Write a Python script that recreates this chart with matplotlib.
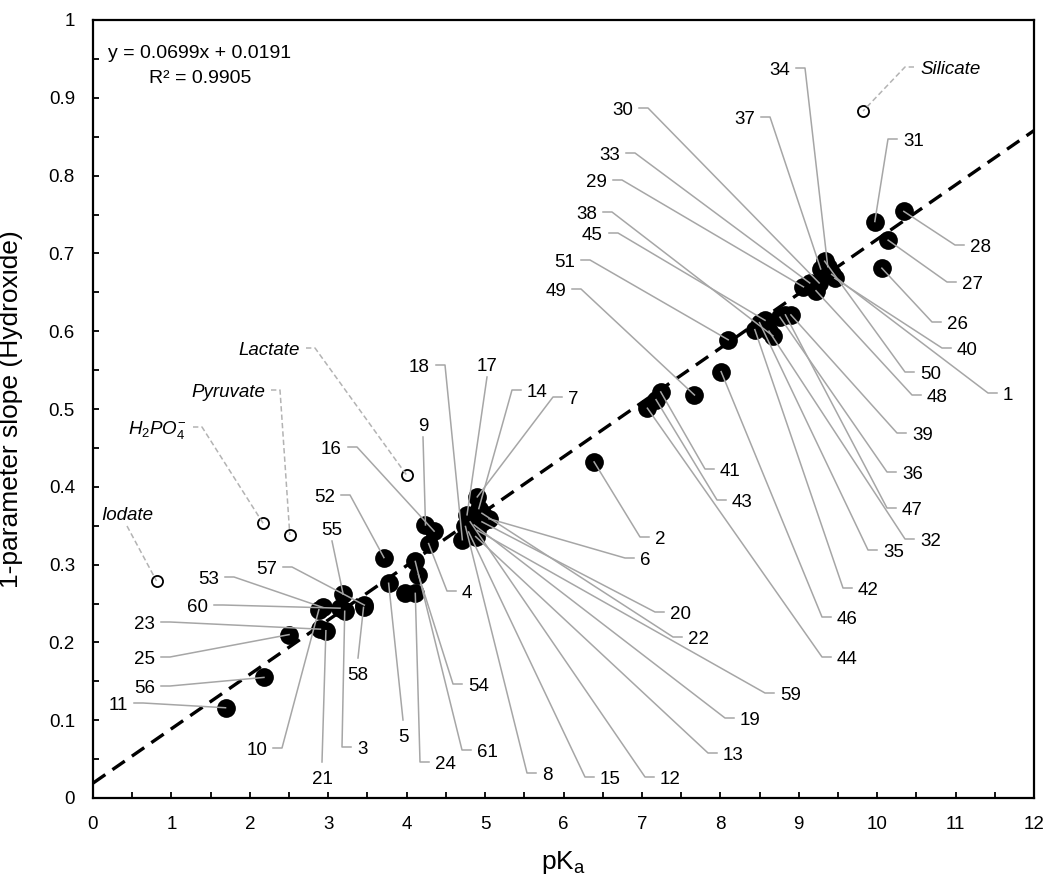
import matplotlib
matplotlib.use('Agg')
import matplotlib.pyplot as plt
from matplotlib.ticker import MultipleLocator, FuncFormatter
import numpy as np

plt.rcParams['font.family'] = ['Liberation Sans', 'DejaVu Sans']
plt.rcParams['mathtext.fontset'] = 'custom'
plt.rcParams['mathtext.rm'] = 'Liberation Sans'
plt.rcParams['mathtext.it'] = 'Liberation Sans:italic'

# ---------------- data ----------------
compound_ids = [11, 56, 25, 23, 21, 10, 53, 60, 3, 55, 57, 58, 52, 5, 24, 61, 54, 4, 9, 16,
                18, 17, 14, 7, 6, 20, 22, 59, 19, 13, 12, 15, 8,
                2, 44, 43, 41, 49, 46, 51,
                42, 35, 45, 32, 38, 36, 47, 39,
                29, 33, 48, 30, 37, 50, 34, 1, 40,
                31, 26, 27, 28]
pka_values = [1.69, 2.18, 2.50, 2.90, 2.97, 2.88, 2.93, 3.15, 3.21, 3.19, 3.46, 3.45, 3.71, 3.77, 4.11, 4.11, 4.15, 4.28, 4.24, 4.35,
              4.71, 4.77, 4.92, 4.90, 5.05, 4.96, 4.96, 4.90, 4.86, 4.88, 4.81, 4.79, 4.75,
              6.39, 7.07, 7.18, 7.24, 7.67, 8.01, 8.10,
              8.44, 8.50, 8.57, 8.62, 8.67, 8.76, 8.83, 8.90,
              9.06, 9.14, 9.22, 9.26, 9.28, 9.33, 9.37, 9.42, 9.46,
              9.97, 10.06, 10.14, 10.34]
slope_values = [0.116, 0.155, 0.210, 0.217, 0.215, 0.242, 0.245, 0.244, 0.240, 0.262, 0.248, 0.245, 0.309, 0.276, 0.263, 0.304, 0.287, 0.327, 0.351, 0.343,
                0.332, 0.364, 0.372, 0.387, 0.359, 0.355, 0.366, 0.344, 0.351, 0.336, 0.355, 0.342, 0.349,
                0.432, 0.501, 0.512, 0.522, 0.518, 0.548, 0.589,
                0.602, 0.611, 0.614, 0.600, 0.594, 0.618, 0.621, 0.621,
                0.657, 0.662, 0.652, 0.662, 0.680, 0.690, 0.683, 0.673, 0.668,
                0.741, 0.681, 0.717, 0.754]
# unlabelled point inside the 24 cluster
extra_pka = [3.98]
extra_slope = [0.263]

outlier_names = ['Iodate', r'$H_2PO_4^{-}$', 'Pyruvate', 'Lactate', 'Silicate']
outlier_pka = [0.81, 2.17, 2.51, 4.00, 9.82]
outlier_slope = [0.279, 0.353, 0.338, 0.415, 0.883]

fit_slope = 0.0699
fit_intercept = 0.0191
r_squared = 0.9905

x_ticks = list(range(0, 13))
y_ticks = [round(0.1 * i, 1) for i in range(0, 11)]

# ---------------- layout (figure pixels, from top-left) ----------------
# side: 'L' text right edge at px, 'R' text left edge at px, 'T' label above point, 'B' label below
label_layout = {
    30: ('L', 633, 108), 33: ('L', 620, 153), 29: ('L', 607, 180), 38: ('L', 597, 212),
    45: ('L', 603, 233), 51: ('L', 575, 260), 49: ('L', 566, 289), 34: ('L', 790, 68),
    37: ('L', 755, 117), 16: ('L', 342, 447), 52: ('L', 335, 495), 57: ('L', 277, 567),
    53: ('L', 219, 577), 60: ('L', 208, 605), 23: ('L', 155, 622), 25: ('L', 155, 657),
    56: ('L', 155, 686), 11: ('L', 128, 703), 10: ('L', 267, 748), 18: ('L', 430, 365),
    31: ('R', 903, 139), 28: ('R', 970, 245), 27: ('R', 962, 282), 26: ('R', 947, 322),
    40: ('R', 957, 348), 50: ('R', 920, 372), 48: ('R', 927, 395), 1: ('R', 1003, 393),
    39: ('R', 912, 433), 36: ('R', 902, 472), 47: ('R', 902, 508), 32: ('R', 920, 539),
    35: ('R', 883, 550), 42: ('R', 858, 588), 46: ('R', 837, 617), 44: ('R', 837, 657),
    41: ('R', 720, 469), 43: ('R', 732, 500), 2: ('R', 655, 537), 6: ('R', 640, 558),
    20: ('R', 670, 612), 22: ('R', 688, 637), 59: ('R', 780, 693), 19: ('R', 740, 718),
    13: ('R', 723, 753), 12: ('R', 660, 777), 15: ('R', 600, 777), 8: ('R', 542, 773),
    24: ('R', 435, 762), 61: ('R', 477, 750), 54: ('R', 468, 684), 4: ('R', 462, 591),
    3: ('R', 357, 747), 14: ('R', 527, 390), 7: ('R', 568, 397),
    17: ('T', 487, 364), 9: ('T', 423, 424), 55: ('T', 332, 528),
    21: ('B', 322, 777), 58: ('B', 358, 673), 5: ('B', 403, 735),
}
outlier_layout = [('T', 127, 513), ('L', 187, 427), ('L', 265, 390), ('L', 300, 348), ('R', 920, 67)]

W, H = 1051, 876
fig = plt.figure(figsize=(W / 100, H / 100), dpi=100)
ax = fig.add_axes([93 / W, 1 - 798 / H, (1034 - 93) / W, (798 - 20) / H])
ax.set_xlim(0, 12)
ax.set_ylim(0, 1)

LABEL_FS = 13.5
GAP, STUB = 6, 9
to_data = ax.transData.inverted()


def place(text, side, px, py, xd, yd, dashed=False, italic=False):
    P = ax.transData.transform((xd, yd))
    base = H - (py + 7)
    cy = H - py
    if side == 'R':
        tx, ha = px, 'left'
        path = [(px - GAP, cy), (px - GAP - STUB, cy), tuple(P)]
    elif side == 'L':
        tx, ha = px, 'right'
        path = [(px + GAP, cy), (px + GAP + STUB, cy), tuple(P)]
    elif side == 'T':
        tx, ha = px, 'center'
        path = [(px, H - (py + 13)), tuple(P)]
    else:
        tx, ha = px, 'center'
        path = [(px, H - (py - 15)), tuple(P)]
    pts = to_data.transform(np.array(path))
    if dashed:
        ax.plot(pts[:, 0], pts[:, 1], color='#b3b3b3', lw=1.1, ls=(0, (3.5, 2)),
                zorder=4, clip_on=False)
    else:
        ax.plot(pts[:, 0], pts[:, 1], color='#a6a6a6', lw=1.1, zorder=4, clip_on=False)
    td = to_data.transform((tx, base))
    ax.text(td[0], td[1], text, ha=ha, va='baseline', fontsize=LABEL_FS,
            style='italic' if italic else 'normal', zorder=5, color='black')


# trendline
xs = np.array([0.0, 12.0])
ax.plot(xs, fit_slope * xs + fit_intercept, color='black', lw=2.4,
        ls=(0, (4.5, 2.6)), zorder=2)

# points
ax.scatter(pka_values + extra_pka, slope_values + extra_slope, s=13.5 ** 2, c='black',
           linewidths=0, zorder=3)
ax.scatter(outlier_pka, outlier_slope, s=8 ** 2, facecolors='white', edgecolors='black',
           linewidths=1.3, zorder=3)

for cid, xv, yv in zip(compound_ids, pka_values, slope_values):
    side, px, py = label_layout[cid]
    place(str(cid), side, px, py, xv, yv)

for name, xv, yv, (side, px, py) in zip(outlier_names, outlier_pka, outlier_slope, outlier_layout):
    place(name, side, px, py, xv, yv, dashed=True, italic=True)

# equation
eq1 = f'y = {fit_slope}x + {fit_intercept}'
eq2 = f'R\u00b2 = {r_squared}'
for s, py in [(eq1, 51), (eq2, 76)]:
    td = to_data.transform((200, H - (py + 7)))
    ax.text(td[0], td[1], s, ha='center', va='baseline', fontsize=14)

# axes styling
ax.set_xticks(x_ticks)
ax.set_yticks(y_ticks)
ax.xaxis.set_minor_locator(MultipleLocator(0.5))
ax.yaxis.set_minor_locator(MultipleLocator(0.05))
ax.yaxis.set_major_formatter(FuncFormatter(lambda v, p: f'{v:g}'))
ax.xaxis.set_major_formatter(FuncFormatter(lambda v, p: f'{v:g}'))
ax.tick_params(which='both', direction='in', length=4.5, width=1.3, top=False, right=False,
               labelsize=13.5, pad=13)
for sp in ax.spines.values():
    sp.set_linewidth(1.6)
    sp.set_color('black')

ax.set_xlabel(r'pK$_\mathrm{a}$', fontsize=19)
ax.set_ylabel('1-parameter slope (Hydroxide)', fontsize=19)
ax.yaxis.set_label_coords(-0.074, 0.5)
ax.xaxis.set_label_coords(0.5, -0.066)

fig.savefig('out.png', dpi=100)
